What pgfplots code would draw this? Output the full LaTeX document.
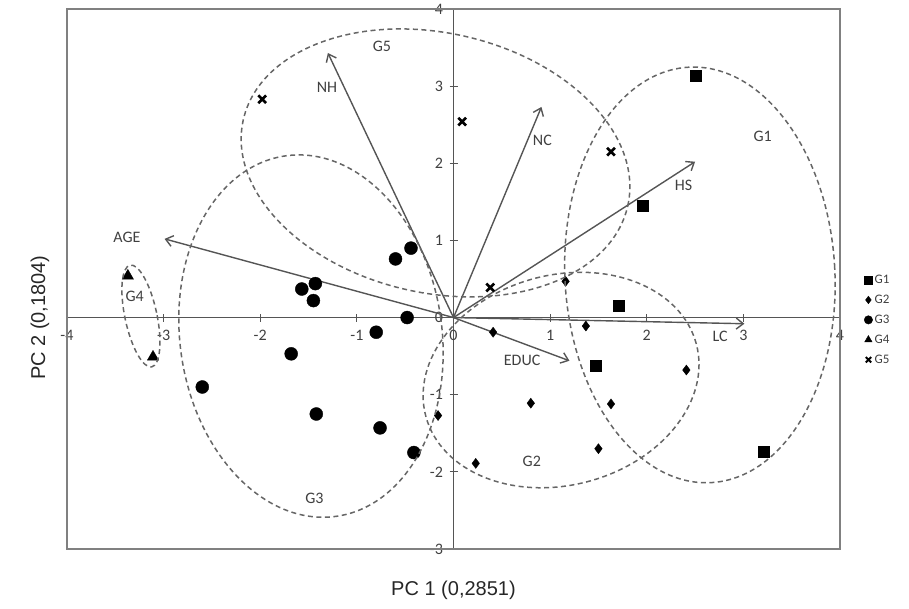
\documentclass[border=0pt]{standalone}
\usepackage{fontspec}
\setmainfont{Carlito}
\newfontfamily\arialfont{Liberation Sans}
\usepackage{pgfplots}
\pgfplotsset{compat=1.18}
\usetikzlibrary{arrows.meta}

\definecolor{axgray}{HTML}{555555}
\definecolor{boxgray}{HTML}{808080}
\definecolor{ellgray}{HTML}{666666}
\definecolor{txtgray}{HTML}{404040}
\definecolor{arrgray}{HTML}{555555}

% group scores
\pgfplotstableread{
x y
2.51 3.13
1.96 1.45
1.71 0.16
1.47 -0.63
3.21 -1.74
}\gone
\pgfplotstableread{
x y
1.16 0.47
1.37 -0.11
0.41 -0.19
2.41 -0.68
1.63 -1.12
0.80 -1.11
1.50 -1.70
0.23 -1.89
-0.16 -1.27
}\gtwo
\pgfplotstableread{
x y
-0.60 0.76
-0.44 0.90
-1.43 0.44
-1.57 0.37
-1.45 0.22
-0.48 0.00
-0.80 -0.19
-1.68 -0.47
-2.60 -0.90
-1.42 -1.25
-0.76 -1.43
-0.41 -1.75
}\gthree
\pgfplotstableread{
x y
-3.37 0.54
-3.11 -0.51
}\gfour
\pgfplotstableread{
x y
-1.98 2.83
0.09 2.54
1.63 2.15
0.38 0.39
}\gfive

\begin{document}
\begin{tikzpicture}
\begin{axis}[
  scale only axis, width=773pt, height=540pt,
  xmin=-4, xmax=4, ymin=-3, ymax=4,
  axis lines=middle,
  axis line style={-, axgray, line width=1.5pt},
  every inner x axis line/.append style={-},
  every inner y axis line/.append style={-},
  xtick={-4,-3,...,4}, ytick={-3,-2,...,4},
  hide obscured x ticks=false, hide obscured y ticks=false,
  tick align=center, major tick length=8pt,
  tick style={axgray, line width=1pt},
  ticklabel style={font=\fontsize{16}{19}\selectfont, text=txtgray},
  xticklabel style={yshift=-5pt},
  yticklabel style={xshift=-3pt},
  /pgf/number format/assume math mode=true,
  clip=false,
  legend style={draw=none, fill=none, at={(axis cs:4,-0.03)}, anchor=west,
    xshift=24pt, font=\fontsize{13}{15}\selectfont, text=txtgray,
    row sep=6pt, inner sep=0pt},
  legend cell align=left,
  legend image code/.code={\draw[#1] plot coordinates {(0pt,0pt)};},
]
\draw[boxgray, line width=2pt] (rel axis cs:0,0) rectangle (rel axis cs:1,1);

% loadings
\addplot[arrgray, line width=1.4pt, -{Straight Barb[length=7pt,width=11pt]}, forget plot] coordinates {(0,0) (-1.30,3.43)};
\addplot[arrgray, line width=1.4pt, -{Straight Barb[length=7pt,width=11pt]}, forget plot] coordinates {(0,0) (0.91,2.73)};
\addplot[arrgray, line width=1.4pt, -{Straight Barb[length=7pt,width=11pt]}, forget plot] coordinates {(0,0) (2.50,2.02)};
\addplot[arrgray, line width=1.4pt, -{Straight Barb[length=7pt,width=11pt]}, forget plot] coordinates {(0,0) (-2.99,1.02)};
\addplot[arrgray, line width=1.4pt, -{Straight Barb[length=7pt,width=11pt]}, forget plot] coordinates {(0,0) (3.01,-0.08)};
\addplot[arrgray, line width=1.4pt, -{Straight Barb[length=7pt,width=11pt]}, forget plot] coordinates {(0,0) (1.20,-0.56)};

% scores
\addplot[only marks, mark=square*, mark size=5.5pt, black, forget plot] table {\gone};
\addplot[only marks, mark=diamond*, mark size=5pt, black, forget plot] table {\gtwo};
\addplot[only marks, mark=*, mark size=6.5pt, black, forget plot] table {\gthree};
\addplot[only marks, mark=triangle*, mark size=6.5pt, black, forget plot] table {\gfour};
\addplot[only marks, mark=x, mark size=5.5pt, black, line width=2.6pt, forget plot] table {\gfive};

\addlegendimage{only marks, mark=square*, mark size=3.8pt, black}
\addlegendentry{G1}
\addlegendimage{only marks, mark=diamond*, mark size=3.8pt, black}
\addlegendentry{G2}
\addlegendimage{only marks, mark=*, mark size=4.2pt, black}
\addlegendentry{G3}
\addlegendimage{only marks, mark=triangle*, mark size=4.3pt, black}
\addlegendentry{G4}
\addlegendimage{only marks, mark=x, mark size=3.8pt, black, line width=1.9pt}
\addlegendentry{G5}

% labels
\begin{scope}[every node/.style={font=\fontsize{16}{19}\selectfont, text=txtgray}]
\node at (axis cs:-1.31,2.98) {NH};
\node at (axis cs:0.92,2.30) {NC};
\node at (axis cs:2.38,1.72) {HS};
\node at (axis cs:-3.38,1.04) {AGE};
\node at (axis cs:2.76,-0.25) {LC};
\node at (axis cs:0.71,-0.56) {EDUC};
\node at (axis cs:-0.74,3.52) {G5};
\node at (axis cs:3.20,2.35) {G1};
\node at (axis cs:0.81,-1.86) {G2};
\node at (axis cs:-1.44,-2.35) {G3};
\node at (axis cs:-3.30,0.27) {G4};
\end{scope}

\coordinate (e1) at (axis cs:2.55,0.553);
\coordinate (e2) at (axis cs:1.113,-0.81);
\coordinate (e3) at (axis cs:-1.475,-0.24);
\coordinate (e4) at (axis cs:-3.235,0.02);
\coordinate (e5) at (axis cs:-0.186,2.005);
\coordinate (xl) at (rel axis cs:0.5,0);
\coordinate (yl) at (axis cs:-4,0);
\coordinate (bl) at (rel axis cs:0,0);
\coordinate (tr) at (rel axis cs:1,1);
\end{axis}

\begin{scope}[ellgray, line width=1.5pt, dash pattern=on 5pt off 3.5pt]
\draw[rotate around={3:(e1)}] (e1) ellipse [x radius=135pt, y radius=208pt];
\draw[rotate around={15:(e2)}] (e2) ellipse [x radius=140pt, y radius=105pt];
\draw[rotate around={8:(e3)}] (e3) ellipse [x radius=131pt, y radius=182pt];
\draw[rotate around={12:(e4)}] (e4) ellipse [x radius=16pt, y radius=52pt];
\draw[rotate around={-12.6:(e5)}] (e5) ellipse [x radius=197pt, y radius=130pt];
\end{scope}

\node[font=\arialfont\fontsize{20}{24}\selectfont, text=black!85] at ([yshift=-41pt]xl) {PC 1 (0,2851)};
\node[rotate=90, font=\arialfont\fontsize{20}{24}\selectfont, text=black!85] at ([xshift=-27pt]yl) {PC 2 (0,1804)};

\pgfresetboundingbox
\path ([shift={(-67pt,-60pt)}]bl) rectangle ([shift={(69pt,9pt)}]tr);
\end{tikzpicture}
\end{document}
